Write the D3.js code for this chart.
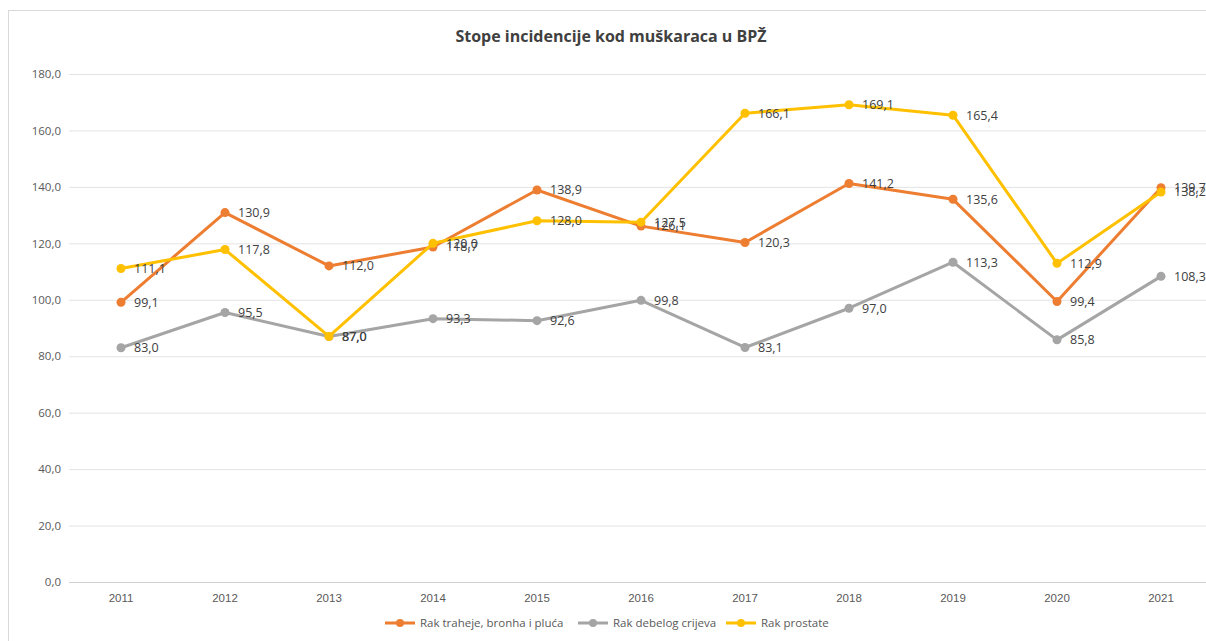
<!DOCTYPE html>
<html><head><meta charset="utf-8">
<script src="https://cdn.jsdelivr.net/npm/d3@7"></script>
<style>body{margin:0;background:#fff;}svg{display:block;font-family:"Open Sans","Liberation Sans",sans-serif;}</style>
</head><body>
<svg id="c" width="1206" height="641"></svg>
<script>
const years = ["2011","2012","2013","2014","2015","2016","2017","2018","2019","2020","2021"];
const pluca = [99.1,130.9,112.0,118.7,138.9,126.1,120.3,141.2,135.6,99.4,139.7];
const crijevo = [83.0,95.5,87.0,93.3,92.6,99.8,83.1,97.0,113.3,85.8,108.3];
const prostata = [111.1,117.8,87.0,120.0,128.0,127.5,166.1,169.1,165.4,112.9,138.2];
const yTicks = [0,20,40,60,80,100,120,140,160,180];
const seriesNames = ["Rak traheje, bronha i pluća","Rak debelog crijeva","Rak prostate"];
const colors = ["#ED7D31","#A5A5A5","#FFC000"];
const series = [pluca, crijevo, prostata];

const svg = d3.select("#c");
svg.append("rect").attr("x",8.5).attr("y",10.5).attr("width",1220).attr("height",660)
  .attr("fill","#fff").attr("stroke","#d9d9d9");
svg.append("text").attr("x",611).attr("y",42).attr("text-anchor","middle")
  .attr("font-size",16).attr("font-weight","bold").attr("fill","#404040").text("Stope incidencije kod muškaraca u BPŽ");

const x = d3.scaleBand().domain(years).range([69,1213]);
const y = d3.scaleLinear().domain([0,180]).range([582,74]);
const fmt = v => d3.format(".1f")(v).replace(".",",");

const g = svg.append("g");
g.selectAll("line.grid").data(yTicks).join("line").attr("class","grid")
  .attr("x1",69).attr("x2",1206).attr("y1",d=>y(d)+0.5).attr("y2",d=>y(d)+0.5)
  .attr("stroke",d=>d===0?"#d0d0d0":"#e3e3e3").attr("stroke-width",1);
const yAxis = d3.axisLeft(y).tickValues(yTicks).tickFormat(fmt).tickSize(0).tickPadding(0);
const ya = svg.append("g").attr("transform","translate(61,0)").call(yAxis);
ya.select(".domain").remove();
ya.selectAll("text").attr("font-size",11.5).attr("fill","#595959").attr("font-family","Open Sans, sans-serif");
const xAxis = d3.axisBottom(x).tickSize(0).tickPadding(0);
const xa = svg.append("g").attr("transform","translate(0,595)").call(xAxis);
xa.select(".domain").remove();
xa.selectAll("text").attr("font-size",11.5).attr("fill","#595959").attr("dy","0.6em");

const cx = d => x(d) + x.bandwidth()/2;
series.forEach((vals,i)=>{
  const data = years.map((yr,j)=>({yr, v: vals[j]}));
  const line = d3.line().x(d=>cx(d.yr)).y(d=>y(d.v));
  g.append("path").datum(data).attr("d",line).attr("fill","none")
    .attr("stroke",colors[i]).attr("stroke-width",3).attr("stroke-linejoin","round");
  g.selectAll("circle.s"+i).data(data).join("circle").attr("class","s"+i)
    .attr("cx",d=>cx(d.yr)).attr("cy",d=>y(d.v)).attr("r",4.5).attr("fill",colors[i]);
});
series.forEach((vals,i)=>{
  const data = years.map((yr,j)=>({yr, v: vals[j]}));
  g.selectAll("text.l"+i).data(data).join("text").attr("class","l"+i)
    .attr("x",d=>cx(d.yr)+13).attr("y",d=>y(d.v)).attr("dy","0.35em")
    .attr("font-size",12.5).attr("fill","#404040").text(d=>fmt(d.v));
});

const legX = [385, 578, 726];
const lg = svg.append("g");
seriesNames.forEach((n,i)=>{
  const gi = lg.append("g").attr("transform",`translate(${legX[i]},623)`);
  gi.append("line").attr("x1",0).attr("x2",30).attr("stroke",colors[i]).attr("stroke-width",3);
  gi.append("circle").attr("cx",15).attr("r",4).attr("fill",colors[i]);
  gi.append("text").attr("x",35).attr("dy","0.35em").attr("font-size",11.5).attr("fill","#595959").text(n);
});
</script>
</body></html>
